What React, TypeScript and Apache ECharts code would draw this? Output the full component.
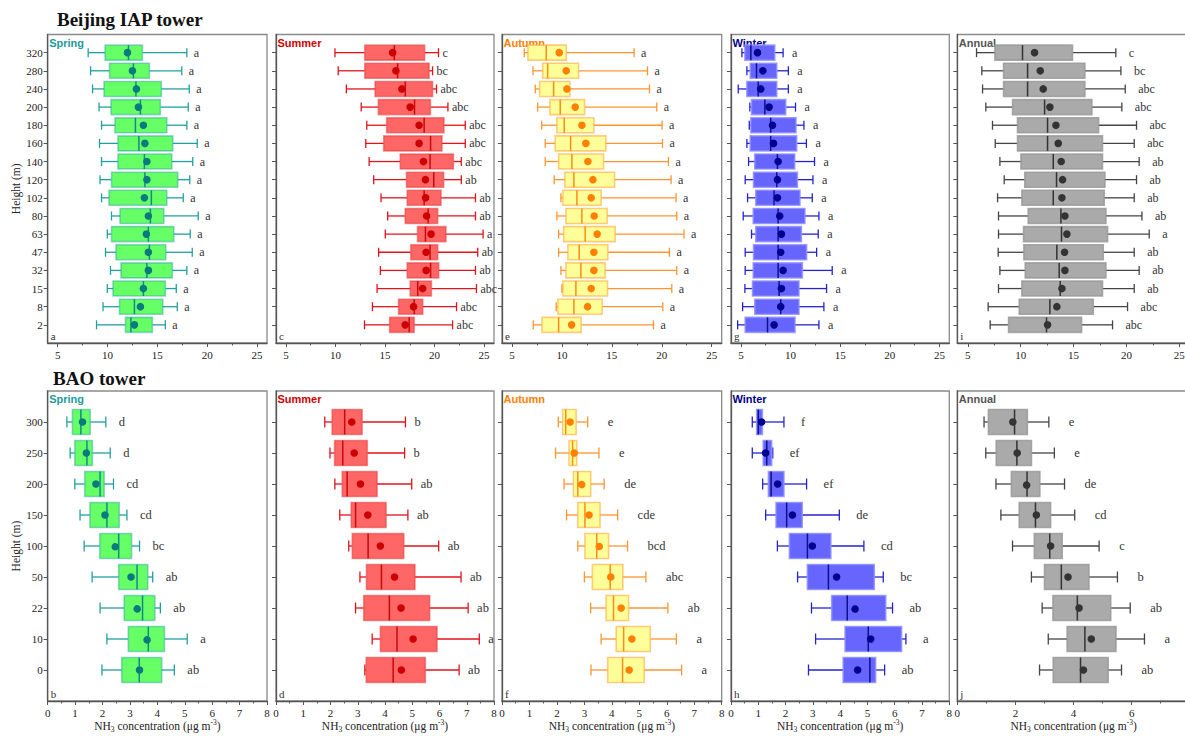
import React, { useEffect, useRef } from 'react';
import * as echarts from 'echarts';

// ---------- categories & ticks ----------
const iapHeights = ['320', '280', '240', '200', '180', '160', '140', '120', '102', '80', '63', '47', '32', '15', '8', '2'];
const baoHeights = ['300', '250', '200', '150', '100', '50', '22', '10', '0'];
const seasonNames = ['Spring', 'Summer', 'Autumn', 'Winter', 'Annual'];
const iapPanelTags = ['a', 'c', 'e', 'g', 'i'];
const baoPanelTags = ['b', 'd', 'f', 'h', 'j'];
const iapTickValues = [5, 10, 15, 20, 25];
const iapMinorTickValues = [7.5, 12.5, 17.5, 22.5];

// ---------- data: rows top to bottom, [min, Q1, median, Q3, max, mean] ----------
const iapSpring = [
  [8.06, 9.75, 12.1, 13.5, 17.96, 12.0],
  [8.3, 10.2, 12.6, 14.2, 17.45, 12.5],
  [8.5, 9.65, 12.85, 15.4, 18.2, 12.9],
  [9.15, 10.35, 13.3, 15.3, 18.1, 13.1],
  [9.4, 10.75, 12.8, 15.95, 17.96, 13.6],
  [9.2, 11.05, 13.15, 16.55, 19.0, 13.75],
  [9.4, 11.05, 13.7, 16.45, 18.55, 13.95],
  [9.25, 10.4, 13.75, 17.05, 18.25, 13.95],
  [9.4, 10.15, 14.4, 15.95, 17.6, 13.7],
  [10.4, 11.25, 14.3, 15.65, 19.1, 14.1],
  [9.98, 10.4, 14.1, 16.65, 18.3, 13.9],
  [9.8, 10.85, 14.2, 15.85, 18.5, 14.1],
  [10.3, 11.35, 13.95, 16.5, 17.96, 14.1],
  [9.98, 10.55, 13.6, 15.8, 16.9, 13.6],
  [9.55, 11.2, 12.7, 15.55, 17.0, 13.3],
  [8.9, 11.8, 12.35, 14.5, 15.8, 12.7],
];
const iapSpringLetters = ['a', 'a', 'a', 'a', 'a', 'a', 'a', 'a', 'a', 'a', 'a', 'a', 'a', 'a', 'a', 'a'];

const iapSummer = [
  [9.95, 12.96, 15.94, 19.0, 20.4, 15.77],
  [10.28, 12.96, 16.27, 19.45, 19.8, 16.1],
  [11.1, 14.0, 17.04, 19.8, 20.2, 16.7],
  [12.6, 14.33, 17.98, 19.58, 21.35, 17.54],
  [13.16, 15.17, 18.95, 20.95, 23.1, 18.44],
  [13.06, 14.87, 19.6, 20.75, 23.1, 18.44],
  [13.4, 16.54, 19.55, 21.9, 22.7, 18.88],
  [13.86, 17.17, 19.92, 20.92, 22.7, 19.08],
  [14.6, 17.24, 18.95, 20.65, 24.13, 19.1],
  [15.27, 17.04, 19.35, 20.32, 24.13, 19.2],
  [15.03, 18.28, 19.08, 21.15, 24.9, 19.65],
  [14.36, 17.6, 19.55, 20.32, 24.36, 19.15],
  [14.53, 17.24, 19.6, 20.42, 24.13, 19.15],
  [14.2, 17.54, 18.3, 19.68, 24.23, 18.8],
  [13.73, 16.37, 17.95, 18.81, 22.22, 17.88],
  [12.93, 15.47, 17.44, 17.94, 21.82, 17.04],
];
const iapSummerLetters = ['c', 'bc', 'abc', 'abc', 'abc', 'abc', 'abc', 'ab', 'ab', 'ab', 'a', 'ab', 'ab', 'abc', 'abc', 'abc'];

const iapAutumn = [
  [6.23, 6.6, 8.43, 10.43, 17.23, 9.73],
  [7.1, 8.07, 8.57, 11.67, 18.57, 10.43],
  [7.33, 7.77, 9.17, 10.8, 18.77, 10.5],
  [7.57, 8.8, 9.83, 12.27, 19.5, 11.33],
  [7.97, 9.5, 10.23, 13.2, 20.03, 12.0],
  [8.33, 9.33, 10.87, 14.4, 20.07, 12.4],
  [8.33, 9.67, 11.0, 14.17, 20.67, 12.6],
  [9.23, 10.3, 11.2, 15.27, 20.93, 13.1],
  [9.9, 10.1, 11.5, 13.93, 21.43, 12.93],
  [9.5, 10.4, 12.0, 14.53, 21.5, 13.23],
  [9.67, 10.17, 12.33, 15.33, 22.23, 13.53],
  [9.67, 10.6, 11.73, 14.6, 20.77, 13.2],
  [9.9, 10.4, 11.9, 14.33, 21.5, 13.2],
  [10.0, 10.1, 11.4, 14.57, 21.0, 12.93],
  [9.43, 9.6, 11.2, 14.03, 20.1, 12.57],
  [7.13, 8.0, 9.67, 11.93, 19.17, 10.97],
];
const iapAutumnLetters = ['a', 'a', 'a', 'a', 'a', 'a', 'a', 'a', 'a', 'a', 'a', 'a', 'a', 'a', 'a', 'a'];

const iapWinter = [
  [5.1, 5.4, 6.0, 8.41, 9.25, 6.67],
  [5.6, 5.94, 6.57, 8.61, 9.78, 7.21],
  [4.73, 5.6, 6.74, 8.61, 9.78, 7.0],
  [5.9, 6.07, 7.41, 9.51, 10.5, 7.84],
  [5.84, 6.0, 8.0, 10.55, 11.35, 8.18],
  [5.6, 5.94, 8.0, 10.62, 11.6, 8.28],
  [5.77, 6.4, 8.68, 10.42, 12.42, 8.75],
  [5.43, 6.27, 8.61, 10.69, 12.26, 8.68],
  [5.67, 6.5, 8.34, 10.95, 12.19, 8.68],
  [5.23, 6.24, 8.75, 11.45, 12.86, 8.91],
  [6.07, 6.5, 8.75, 11.09, 12.79, 9.08],
  [5.43, 6.27, 8.75, 11.62, 12.63, 9.01],
  [5.43, 6.24, 8.75, 11.19, 14.2, 9.25],
  [5.4, 6.17, 8.85, 10.85, 13.63, 9.08],
  [5.17, 6.4, 9.01, 10.85, 13.36, 9.01],
  [4.67, 5.43, 7.68, 10.45, 12.86, 8.34],
];
const iapWinterLetters = ['a', 'a', 'a', 'a', 'a', 'a', 'a', 'a', 'a', 'a', 'a', 'a', 'a', 'a', 'a', 'a'];

const iapAnnual = [
  [5.82, 7.56, 10.17, 14.9, 19.0, 11.31],
  [6.32, 8.38, 10.65, 16.07, 19.48, 11.85],
  [6.39, 8.38, 10.65, 16.07, 19.89, 12.13],
  [6.7, 9.23, 12.26, 16.73, 19.57, 12.76],
  [7.33, 9.7, 12.54, 17.37, 20.96, 13.33],
  [7.59, 9.7, 12.54, 17.74, 20.74, 13.55],
  [8.03, 10.02, 13.08, 17.74, 21.21, 13.83],
  [8.44, 10.39, 13.39, 17.97, 20.96, 13.96],
  [7.81, 10.11, 13.08, 17.9, 20.74, 13.9],
  [7.9, 10.71, 13.8, 18.06, 21.47, 14.18],
  [7.9, 10.27, 13.86, 18.22, 22.16, 14.37],
  [7.87, 10.3, 13.42, 17.81, 20.74, 14.15],
  [8.03, 10.43, 13.64, 18.06, 21.21, 14.18],
  [7.9, 10.11, 13.74, 17.74, 20.74, 13.9],
  [6.92, 9.86, 12.76, 16.86, 20.11, 13.42],
  [7.11, 8.85, 12.44, 15.76, 18.69, 12.54],
];
const iapAnnualLetters = ['c', 'bc', 'abc', 'abc', 'abc', 'abc', 'ab', 'ab', 'ab', 'ab', 'a', 'ab', 'ab', 'ab', 'abc', 'abc'];

const baoSpring = [
  [0.7, 0.9, 1.21, 1.55, 2.12, 1.27],
  [0.82, 0.99, 1.43, 1.63, 2.28, 1.41],
  [0.99, 1.35, 1.91, 2.06, 2.4, 1.76],
  [1.18, 1.54, 2.16, 2.61, 2.89, 2.09],
  [1.33, 1.9, 2.59, 3.06, 3.35, 2.46],
  [1.62, 2.59, 3.26, 3.65, 3.83, 3.04],
  [1.91, 2.79, 3.46, 3.91, 4.11, 3.26],
  [2.16, 2.94, 3.67, 4.26, 5.09, 3.62],
  [1.98, 2.7, 3.34, 4.16, 4.62, 3.35],
];
const baoSpringLetters = ['d', 'd', 'cd', 'cd', 'bc', 'ab', 'ab', 'a', 'ab'];

const baoSummer = [
  [1.79, 2.06, 2.52, 3.16, 4.75, 2.78],
  [1.98, 2.15, 2.45, 3.35, 4.72, 2.87],
  [2.16, 2.43, 2.61, 3.71, 4.98, 3.1],
  [2.34, 2.76, 2.92, 4.04, 4.84, 3.37],
  [2.67, 2.8, 3.38, 4.69, 5.97, 3.83],
  [3.08, 3.32, 3.87, 5.1, 6.79, 4.35],
  [2.92, 3.22, 4.16, 5.64, 7.05, 4.59],
  [3.53, 3.83, 4.44, 5.91, 7.46, 5.03],
  [3.26, 3.31, 4.3, 5.48, 6.72, 4.6],
];
const baoSummerLetters = ['b', 'b', 'ab', 'ab', 'ab', 'ab', 'ab', 'a', 'ab'];

const baoAutumn = [
  [2.05, 2.21, 2.32, 2.7, 3.12, 2.48],
  [1.95, 2.44, 2.57, 2.72, 3.53, 2.63],
  [2.26, 2.6, 2.76, 3.23, 3.72, 2.9],
  [2.35, 2.76, 3.02, 3.57, 4.21, 3.17],
  [2.76, 3.02, 3.45, 3.88, 4.57, 3.54],
  [3.0, 3.29, 3.94, 4.4, 5.24, 3.96],
  [3.23, 3.79, 4.06, 4.61, 6.04, 4.34],
  [3.61, 4.16, 4.43, 5.4, 6.35, 4.73],
  [3.24, 3.85, 4.39, 5.18, 6.54, 4.63],
];
const baoAutumnLetters = ['e', 'e', 'de', 'cde', 'bcd', 'abc', 'ab', 'a', 'a'];

const baoWinter = [
  [0.78, 0.94, 1.0, 1.15, 1.94, 1.12],
  [0.78, 1.18, 1.31, 1.49, 1.53, 1.27],
  [1.16, 1.37, 1.47, 1.94, 2.77, 1.71],
  [1.27, 1.65, 2.04, 2.61, 3.97, 2.25],
  [1.7, 2.14, 2.8, 3.66, 4.87, 2.98],
  [2.44, 2.8, 3.57, 5.25, 5.58, 3.87],
  [2.95, 3.69, 4.26, 5.67, 5.92, 4.54],
  [3.1, 4.18, 5.03, 6.25, 6.41, 5.12],
  [2.84, 4.11, 5.09, 5.3, 5.63, 4.64],
];
const baoWinterLetters = ['f', 'ef', 'ef', 'de', 'cd', 'bc', 'ab', 'a', 'ab'];

const baoAnnual = [
  [0.92, 1.07, 1.97, 2.41, 3.15, 1.91],
  [0.98, 1.34, 2.05, 2.55, 3.34, 2.06],
  [1.33, 1.86, 2.4, 2.84, 3.69, 2.38],
  [1.5, 2.13, 2.69, 3.21, 4.04, 2.72],
  [1.9, 2.65, 3.18, 3.61, 4.88, 3.21],
  [2.55, 3.0, 3.58, 4.53, 5.51, 3.81],
  [2.92, 3.29, 4.13, 5.28, 5.95, 4.19],
  [3.13, 3.78, 4.39, 5.46, 6.44, 4.61],
  [2.83, 3.3, 4.24, 5.19, 5.65, 4.34],
];
const baoAnnualLetters = ['e', 'e', 'de', 'cd', 'c', 'b', 'ab', 'a', 'ab'];

// ---------- styles & layout ----------
const SERIF = "'Liberation Serif', 'Times New Roman', Times, serif";
const SANS = "'Liberation Sans', Arial, Helvetica, sans-serif";

const seasonStyles = [
  { label: '#1E9A9A', fill: '#66FF66', edge: 'rgba(30,160,160,0.45)', whisker: '#22A0A0', median: '#14898A', mean: '#0B7A7E' },
  { label: '#D00000', fill: '#FF6666', edge: 'rgba(230,60,60,0.55)', whisker: '#E0141C', median: '#C80A10', mean: '#CC0000' },
  { label: '#FF8000', fill: '#FFFF99', edge: 'rgba(255,170,60,0.6)', whisker: '#FF9530', median: '#FF8A1A', mean: '#FF7F00' },
  { label: '#00008B', fill: '#6666FF', edge: 'rgba(140,140,255,0.8)', whisker: '#2424CC', median: '#10108A', mean: '#00008E' },
  { label: '#555555', fill: '#AAAAAA', edge: 'rgba(150,150,150,0.8)', whisker: '#454545', median: '#333333', mean: '#333333' },
];

const colLeft = [47.7, 276, 502, 731, 957.3];
const colWidth = [219.3, 218, 219.7, 218.3, 232.5];
const rowTop = [34.5, 391];
const rowHeight = [308.5, 310];
const letterGap = [[7, 4, 7, 9, 13], [13, 9, 20, 17, 20]];

const rows = [
  {
    heights: iapHeights,
    tags: iapPanelTags,
    data: [iapSpring, iapSummer, iapAutumn, iapWinter, iapAnnual],
    letters: [iapSpringLetters, iapSummerLetters, iapAutumnLetters, iapWinterLetters, iapAnnualLetters],
  },
  {
    heights: baoHeights,
    tags: baoPanelTags,
    data: [baoSpring, baoSummer, baoAutumn, baoWinter, baoAnnual],
    letters: [baoSpringLetters, baoSummerLetters, baoAutumnLetters, baoWinterLetters, baoAnnualLetters],
  },
];

const AXIS_COLOR = '#555';

function makeRender(st: any, boxH: number, capH: number, gap: number, letters: string[], fontSize: number) {
  return (params: any, api: any) => {
    const k = api.value(0);
    const p = [1, 2, 3, 4, 5, 6].map((d) => api.coord([api.value(d), k]));
    const [pMin, pQ1, pMed, pQ3, pMax, pMean] = p;
    const y = pMin[1];
    const lw = 1.3;
    return {
      type: 'group',
      children: [
        { type: 'line', shape: { x1: pMin[0], y1: y, x2: pQ1[0], y2: y }, style: { stroke: st.whisker, lineWidth: lw } },
        { type: 'line', shape: { x1: pQ3[0], y1: y, x2: pMax[0], y2: y }, style: { stroke: st.whisker, lineWidth: lw } },
        { type: 'line', shape: { x1: pMin[0], y1: y - capH / 2, x2: pMin[0], y2: y + capH / 2 }, style: { stroke: st.whisker, lineWidth: lw } },
        { type: 'line', shape: { x1: pMax[0], y1: y - capH / 2, x2: pMax[0], y2: y + capH / 2 }, style: { stroke: st.whisker, lineWidth: lw } },
        {
          type: 'rect',
          shape: { x: pQ1[0], y: y - boxH / 2, width: pQ3[0] - pQ1[0], height: boxH },
          style: { fill: st.fill, stroke: st.edge, lineWidth: 1.6 },
        },
        { type: 'line', shape: { x1: pMed[0], y1: y - boxH / 2, x2: pMed[0], y2: y + boxH / 2 }, style: { stroke: st.median, lineWidth: 1.5 } },
        { type: 'circle', shape: { cx: pMean[0], cy: y, r: 3.8 }, style: { fill: st.mean } },
        {
          type: 'text',
          x: pMax[0] + gap,
          y: y,
          style: {
            text: letters[params.dataIndex],
            fill: '#333',
            font: `${fontSize}px ${SERIF}`,
            align: 'left',
            verticalAlign: 'middle',
            textAlign: 'left',
            textVerticalAlign: 'middle',
          },
        },
      ],
    };
  };
}

function buildOption() {
  const grid: any[] = [];
  const xAxis: any[] = [];
  const yAxis: any[] = [];
  const series: any[] = [];
  const graphic: any[] = [];

  const textEl = (x: number, y: number, text: string, fill: string, font: string) => ({
    type: 'text',
    x,
    y,
    silent: true,
    style: { text, fill, font, align: 'left', verticalAlign: 'middle', textAlign: 'left', textVerticalAlign: 'middle' },
  });

  graphic.push(textEl(57, 19, 'Beijing IAP tower', '#111', `bold 19px ${SERIF}`));
  graphic.push(textEl(53, 378, 'BAO tower', '#111', `bold 19px ${SERIF}`));

  rows.forEach((row, r) => {
    row.data.forEach((panel, c) => {
      const g = grid.length;
      grid.push({
        left: colLeft[c],
        top: rowTop[r],
        width: colWidth[c],
        height: rowHeight[r],
        show: true,
        borderColor: '#8a8a8a',
        borderWidth: 1.3,
        backgroundColor: 'transparent',
        containLabel: false,
        outerBoundsMode: 'none',
      });

      const labelStyle = { fontFamily: SERIF, fontSize: 11, color: '#222', margin: 6 };
      const mainIndex = xAxis.length;
      if (r === 0) {
        xAxis.push({
          type: 'value',
          gridIndex: g,
          min: 4,
          max: 26,
          position: 'bottom',
          axisLine: { show: true, onZero: false, lineStyle: { color: AXIS_COLOR, width: 1.3 } },
          axisTick: { show: true, length: 4, customValues: iapTickValues, lineStyle: { color: AXIS_COLOR, width: 1 } },
          axisLabel: { ...labelStyle, customValues: iapTickValues },
          splitLine: { show: false },
        });
        xAxis.push({
          type: 'value',
          gridIndex: g,
          min: 4,
          max: 26,
          position: 'bottom',
          axisLine: { show: false },
          axisTick: { show: true, length: 2.5, customValues: iapMinorTickValues, lineStyle: { color: AXIS_COLOR, width: 1 } },
          axisLabel: { show: false },
          splitLine: { show: false },
        });
      } else {
        xAxis.push({
          type: 'value',
          gridIndex: g,
          min: 0,
          max: 8,
          interval: c === 4 ? 2 : 1,
          position: 'bottom',
          axisLine: { show: true, onZero: false, lineStyle: { color: AXIS_COLOR, width: 1.3 } },
          axisTick: { show: true, length: 4, lineStyle: { color: AXIS_COLOR, width: 1 } },
          minorTick: { show: true, splitNumber: 2, length: 2.5, lineStyle: { color: AXIS_COLOR, width: 1 } },
          axisLabel: { ...labelStyle, showMaxLabel: c !== 4 },
          splitLine: { show: false },
          minorSplitLine: { show: false },
          name: '{n|NH}{s|3}{n| concentration (μg m}{p|-3}{n|)}',
          nameLocation: 'middle',
          nameGap: 17,
          nameTextStyle: {
            color: '#222',
            fontFamily: SERIF,
            fontSize: 11.5,
            rich: {
              n: { fontFamily: SERIF, fontSize: 11.5, color: '#222', lineHeight: 15, verticalAlign: 'middle' },
              s: { fontFamily: SERIF, fontSize: 7.5, color: '#222', lineHeight: 15, verticalAlign: 'bottom' },
              p: { fontFamily: SERIF, fontSize: 7.5, color: '#222', lineHeight: 15, verticalAlign: 'top' },
            },
          },
        });
      }

      yAxis.push({
        type: 'category',
        gridIndex: g,
        data: ['', ...row.heights, ' '],
        inverse: true,
        boundaryGap: false,
        axisLine: { show: true, lineStyle: { color: AXIS_COLOR, width: 1.3 } },
        axisTick: {
          show: true,
          length: 4,
          interval: (i: number, v: string) => String(v).trim() !== '',
          lineStyle: { color: AXIS_COLOR, width: 1 },
        },
        axisLabel: { show: c === 0, interval: 0, fontFamily: SERIF, fontSize: 11, color: '#222', margin: 5 },
        splitLine: { show: false },
        name: c === 0 ? 'Height (m)' : '',
        nameLocation: 'middle',
        nameGap: 22,
        nameTextStyle: { fontFamily: SERIF, fontSize: 11.5, color: '#222' },
      });

      const st = seasonStyles[c];
      series.push({
        type: 'custom',
        xAxisIndex: mainIndex,
        yAxisIndex: g,
        encode: { x: [1, 2, 3, 4, 5, 6], y: 0 },
        data: panel.map((v, k) => [k + 1, ...v]),
        renderItem: makeRender(
          st,
          r === 0 ? 15 : 25,
          r === 0 ? 9 : 11,
          letterGap[r][c],
          row.letters[c],
          r === 0 ? 12 : 12.5,
        ),
        silent: true,
      });

      graphic.push(textEl(colLeft[c] + 1.5, rowTop[r] + 8, seasonNames[c], st.label, `bold 11px ${SANS}`));
      graphic.push(textEl(colLeft[c] + 3, rowTop[r] + rowHeight[r] - 7, row.tags[c], '#333', `11px ${SERIF}`));
    });
  });

  return {
    animation: false,
    backgroundColor: '#ffffff',
    grid,
    xAxis,
    yAxis,
    series,
    graphic: { elements: graphic },
  };
}

export default function App() {
  const ref = useRef<HTMLDivElement>(null);
  useEffect(() => {
    if (!ref.current) return;
    const chart = echarts.init(ref.current, null, { renderer: 'svg' });
    chart.setOption(buildOption() as any);
    return () => {
      chart.dispose();
    };
  }, []);
  return (
    <div
      ref={ref}
      style={{ position: 'fixed', left: 0, top: 0, width: 1185, height: 736, background: '#fff' }}
    />
  );
}
